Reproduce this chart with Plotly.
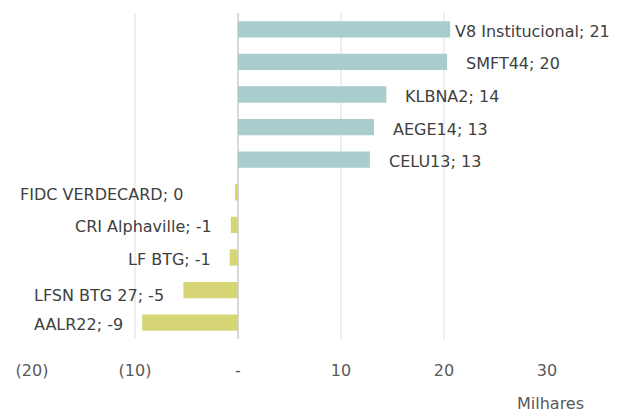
import plotly.graph_objects as go

categories = ["V8 Institucional", "SMFT44", "KLBNA2", "AEGE14", "CELU13",
              "FIDC VERDECARD", "CRI Alphaville", "LF BTG", "LFSN BTG 27", "AALR22"]
values = [20.6, 20.3, 14.4, 13.2, 12.8, -0.3, -0.7, -0.8, -5.3, -9.3]
tick_vals = [-20, -10, 0, 10, 20, 30]
tick_text = ["(20)", "(10)", "-", "10", "20", "30"]
axis_unit = "Milhares"

POS = "#A9CDCC"
NEG = "#D6D677"
FONT = "DejaVu Sans"

colors = [POS if v >= 0 else NEG for v in values]

fig = go.Figure()
fig.add_trace(go.Bar(
    x=values, y=categories, orientation="h",
    marker=dict(color=colors, line=dict(width=0)),
    width=0.5, hoverinfo="skip",
))

# label offsets (styling only)
xshift_pos = {"V8 Institucional": 3}
xshift_neg = {"FIDC VERDECARD": -50}
yshift = {"LFSN BTG 27": -5}

for c, v in zip(categories, values):
    txt = f"{c}; {round(v)}"
    if v >= 0:
        fig.add_annotation(x=v, y=c, text=txt, showarrow=False, xanchor="left",
                           xshift=xshift_pos.get(c, 17), yshift=yshift.get(c, -2),
                           font=dict(family=FONT, size=16, color="#404040"))
    else:
        fig.add_annotation(x=v, y=c, text=txt, showarrow=False, xanchor="right",
                           xshift=xshift_neg.get(c, -17), yshift=yshift.get(c, -2),
                           font=dict(family=FONT, size=16, color="#404040"))

fig.add_annotation(x=1.006, y=-0.199, xref="paper", yref="paper", text=axis_unit,
                   showarrow=False, xanchor="center", yanchor="middle",
                   font=dict(family=FONT, size=16, color="#595959"))

fig.update_layout(
    width=620, height=412,
    margin=dict(l=32, r=73, t=13, b=73),
    plot_bgcolor="white", paper_bgcolor="white",
    showlegend=False,
    font=dict(family=FONT, size=16, color="#595959"),
    xaxis=dict(range=[-20, 30], tickvals=tick_vals, ticktext=tick_text,
               automargin=False,
               showgrid=True, gridcolor="#EEEEEE", gridwidth=1.5,
               zeroline=True, zerolinecolor="#D9D9D9", zerolinewidth=1.5,
               showline=False, ticks="", ticklabelstandoff=20,
               tickfont=dict(family=FONT, size=16, color="#595959")),
    yaxis=dict(autorange="reversed", showticklabels=False, showgrid=False,
               automargin=False,
               zeroline=False, showline=False),
)

fig.write_html("out.html", config={"displayModeBar": False},
               post_script="document.body.style.margin='0';document.body.style.overflow='hidden';")
